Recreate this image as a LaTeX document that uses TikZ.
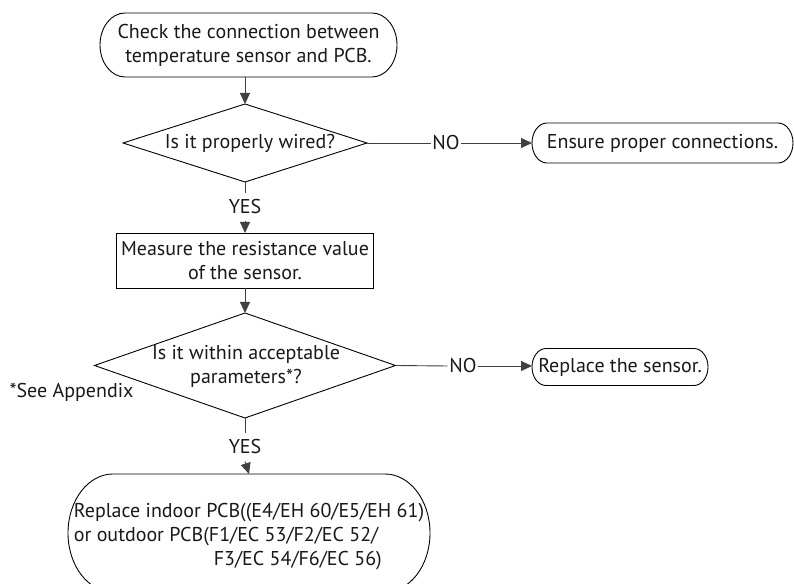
\documentclass[tikz,border=0pt]{standalone}
\usepackage{fontspec}
\setmainfont{PT Sans}
\usetikzlibrary{shapes.geometric,arrows.meta}
\tikzset{
  base/.style={font=\fontsize{20}{24}\selectfont, text=black!90},
  outline/.style={draw=black, line width=0.9pt},
  boxnode/.style={base, inner sep=0pt, outer sep=0pt, align=center},
  decision/.style={diamond, outline, inner sep=0pt, outer sep=0pt},
  lbl/.style={base, inner xsep=1.5pt, inner ysep=7pt},
  conn/.style={draw=black!75, line width=0.9pt},
  arr/.style={conn, -{Triangle[length=11pt,width=10pt]}},
}
\newcommand\termoutline[3]{%
  \draw[outline] ([xshift=#2]#1.north west) -- ([xshift=-#2]#1.north east)
    arc[start angle=90,end angle=-90,x radius=#2,y radius=#3]
    -- ([xshift=#2]#1.south west)
    arc[start angle=270,end angle=90,x radius=#2,y radius=#3] -- cycle;}
\begin{document}
\begin{tikzpicture}[x=1pt,y=1pt]
\clip (0,0) rectangle (794,583);
\fill[white] (0,0) rectangle (794,583);

% terminals and boxes
\node[boxnode, minimum width=297pt, minimum height=64pt] (t1) at (248.5,538)
  {Check the connection between\\temperature sensor and PCB.};
\termoutline{t1}{25pt}{32pt}

\node[decision, minimum width=244pt, minimum height=78pt] (d1) at (245,440) {};
\node[base] (d1txt) at (250,440) {Is it properly wired?};

\node[boxnode, minimum width=261pt, minimum height=40pt] (t2) at (662.5,440)
  {Ensure proper connections.};
\termoutline{t2}{15pt}{20pt}

\node[boxnode, outline, minimum width=257pt, minimum height=55pt] (r1) at (245,322.5)
  {Measure the resistance value\\of the sensor.};

\node[decision, minimum width=301pt, minimum height=105pt] (d2) at (245,217.5) {};
\node[base, align=center] (d2txt) at (246,217)
  {Is it within acceptable\\parameters*?};

\node[boxnode, minimum width=176pt, minimum height=37pt] (t3) at (620,216)
  {Replace the sensor.};
\termoutline{t3}{14pt}{18.5pt}

\node[boxnode, minimum width=362pt, minimum height=118pt] (t4) at (249,50) {};
\termoutline{t4}{45pt}{59pt}
\node[base, align=left, inner sep=0pt] (t4txt) at (249,46)
  {Replace indoor PCB((E4/EH 60/E5/EH 61)\\
   or outdoor PCB(F1/EC 53/F2/EC 52/\\
   \hspace*{140pt}F3/EC 54/F6/EC 56)};

\node[base] (note) at (71.5,191) {*See Appendix};

% labels
\node[lbl] (yes1) at (245,376) {YES};
\node[lbl] (no1) at (446,440) {NO};
\node[lbl] (no2) at (463,217) {NO};
\node[lbl] (yes2) at (245,136) {YES};

% connectors
\draw[arr] (t1.south -| d1.north) -- (d1.north);
\draw[conn] (d1.south) -- (yes1.north);
\draw[arr] (yes1.south) -- (r1.north);
\draw[conn] (d1.east) -- (no1.west);
\draw[arr] (no1.east) -- (t2.west);
\draw[arr] (r1.south) -- (d2.north);
\draw[conn] (d2.east) -- (no2.west);
\draw[arr] (no2.east) -- (no2.east -| t3.west);
\draw[conn] (d2.south) -- (yes2.north);
\draw[arr] (yes2.south) -- (t4.north);
\end{tikzpicture}
\end{document}
